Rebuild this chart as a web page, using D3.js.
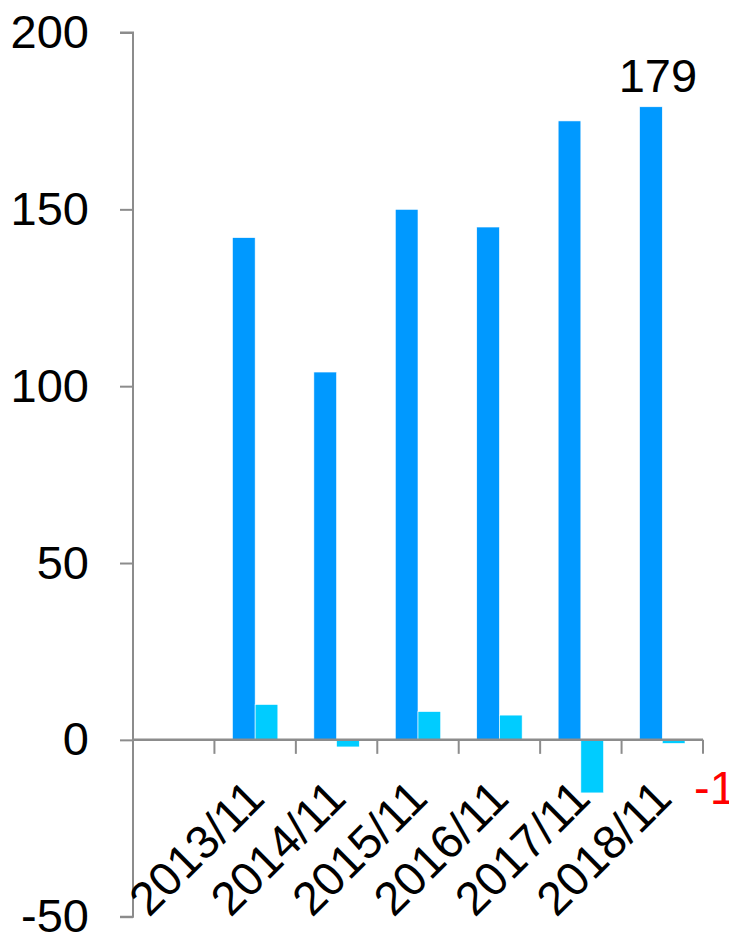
<!DOCTYPE html>
<html>
<head>
<meta charset="utf-8">
<script src="https://cdn.jsdelivr.net/npm/d3@7"></script>
<style>
  html, body { margin: 0; padding: 0; background: #ffffff; }
  svg { display: block; }
  text { font-family: "Liberation Sans", Arial, sans-serif; }
</style>
</head>
<body>
<svg id="chart" width="729" height="933"></svg>
<script>
// Categories along the x axis (first slot intentionally left blank)
const categories = ["", "2013/11", "2014/11", "2015/11", "2016/11", "2017/11", "2018/11"];
// Main series (dark blue) and change series (light cyan)
const mainValues = [null, 142, 104, 150, 145, 175, 179];
const changeValues = [null, 10, -2, 8, 7, -15, -1];
const yTicks = [-50, 0, 50, 100, 150, 200];
const seriesKeys = ["main", "change"];
const seriesColors = { main: "#0099ff", change: "#00ccff" };

const svg = d3.select("#chart");
const axisColor = "#8c8c8c";
const fontSize = 47;
const plain = v => String(v); // hyphen-minus for negatives

const x = d3.scaleBand().domain(categories).range([133, 703]).paddingInner(0).paddingOuter(0);
const xInner = d3.scaleBand().domain(seriesKeys).range([0, x.bandwidth()]).paddingInner(0).paddingOuter(0.793);
const y = d3.scaleLinear().domain([-50, 200]).range([916.7, 32.5]);

const rows = categories.map((c, i) => ({ cat: c, main: mainValues[i], change: changeValues[i] }));

// Bars
const groups = svg.append("g").selectAll("g")
  .data(rows)
  .join("g")
  .attr("transform", d => `translate(${x(d.cat)},0)`);

groups.selectAll("rect")
  .data(d => seriesKeys.filter(k => d[k] !== null).map(k => ({ key: k, value: d[k] })))
  .join("rect")
  .attr("x", d => xInner(d.key))
  .attr("width", xInner.bandwidth())
  .attr("y", d => y(Math.max(0, d.value)))
  .attr("height", d => Math.abs(y(d.value) - y(0)))
  .attr("fill", d => seriesColors[d.key])
  .attr("stroke", "#ffffff")
  .attr("stroke-width", 0.6);

// Y axis
const yAxis = svg.append("g").attr("transform", "translate(133,0)")
  .call(d3.axisLeft(y).tickValues(yTicks).tickSize(13).tickPadding(31).tickFormat(plain));
yAxis.select(".domain").attr("stroke", axisColor).attr("stroke-width", 2)
  .attr("d", `M-13,${y(200)}H0V${y(-50)}H-13`);
yAxis.selectAll(".tick line").attr("stroke", axisColor).attr("stroke-width", 2);
yAxis.selectAll(".tick text")
  .attr("fill", "#000")
  .style("font-size", fontSize + "px")
  .style("font-family", "'Liberation Sans', Arial, sans-serif");

// X axis along zero line, ticks at category boundaries
const xAxisG = svg.append("g").attr("transform", `translate(0,${y(0)})`);
xAxisG.append("line")
  .attr("x1", x.range()[0]).attr("x2", x.range()[1])
  .attr("y1", 0).attr("y2", 0)
  .attr("stroke", axisColor).attr("stroke-width", 2.5);
const boundaries = categories.map(c => x(c)).concat([x.range()[1]]);
xAxisG.selectAll("line.tick")
  .data(boundaries)
  .join("line")
  .attr("class", "tick")
  .attr("x1", d => d).attr("x2", d => d)
  .attr("y1", 0).attr("y2", 14)
  .attr("stroke", axisColor).attr("stroke-width", 2);

// Rotated category labels
svg.append("g").selectAll("text")
  .data(categories.filter(c => c !== ""))
  .join("text")
  .attr("transform", d => `translate(${x(d) + x.bandwidth() / 2},789) rotate(-45)`)
  .attr("text-anchor", "end")
  .attr("dy", "0.35em")
  .style("font-size", fontSize + "px")
  .attr("fill", "#000")
  .text(d => d);

// Value labels for the last category
const last = rows[rows.length - 1];
svg.append("text")
  .attr("x", x(last.cat) + xInner("main") + xInner.bandwidth() / 2 + 7)
  .attr("y", y(last.main) - 15)
  .attr("text-anchor", "middle")
  .style("font-size", fontSize + "px")
  .attr("fill", "#000")
  .text(plain(last.main));

svg.append("text")
  .attr("x", x(last.cat) + xInner("change") + xInner.bandwidth() + 9)
  .attr("y", y(last.change) + 61)
  .attr("text-anchor", "start")
  .style("font-size", fontSize + "px")
  .attr("fill", "#ff0000")
  .text(plain(last.change));
</script>
</body>
</html>
